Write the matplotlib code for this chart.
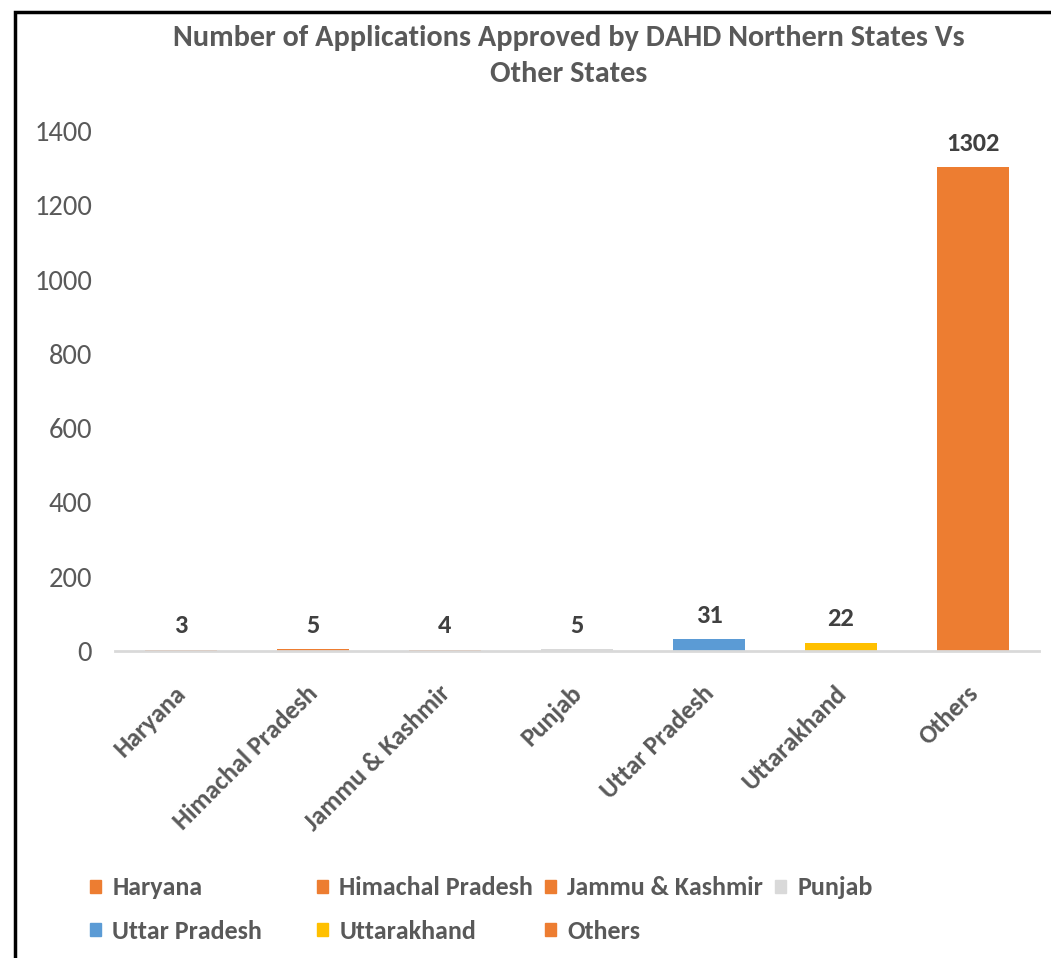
import matplotlib
matplotlib.use("Agg")
import matplotlib.pyplot as plt
from matplotlib.patches import Rectangle, Patch
from matplotlib.transforms import ScaledTranslation

REG = ['Carlito', 'Lato', 'DejaVu Sans']
BOLD = ['Carlito', 'Roboto', 'DejaVu Sans']
plt.rcParams['font.family'] = REG

# data
states = ['Haryana', 'Himachal Pradesh', 'Jammu & Kashmir', 'Punjab',
          'Uttar Pradesh', 'Uttarakhand', 'Others']
approved = [3, 5, 4, 5, 31, 22, 1302]
colors = ['#ED7D31', '#ED7D31', '#ED7D31', '#D9D9D9',
          '#5B9BD5', '#FFC000', '#ED7D31']

W, H = 1051, 958
fig = plt.figure(figsize=(W / 100, H / 100), dpi=100)

# axes placed by pixel
left, right, top, bottom = 115, 1039, 131, 651
ax = fig.add_axes([left / W, 1 - bottom / H, (right - left) / W, (bottom - top) / H])

x = list(range(len(states)))
ax.bar(x, approved, width=0.55, color=colors, zorder=1)
ax.set_xlim(-0.5, len(states) - 0.5)
ax.set_ylim(0, 1400)
ax.set_yticks(range(0, 1401, 200))
ax.tick_params(axis='y', length=0, labelsize=20.5, labelcolor='#595959', pad=16.5)
ax.tick_params(axis='x', length=0, pad=8)
ax.set_xticks(x)
ax.set_xticklabels(states, rotation=45, ha='right', rotation_mode='anchor',
                   fontsize=18.5, fontweight='bold', color='#595959', family=BOLD)
# nudge the rotated labels down/left like the original
shift = ScaledTranslation(-0.07, -0.19, fig.dpi_scale_trans)
for lab in ax.get_xticklabels():
    lab.set_transform(lab.get_transform() + shift)

for s in ['top', 'right', 'left']:
    ax.spines[s].set_visible(False)
ax.spines['bottom'].set_color('#D9D9D9')
ax.spines['bottom'].set_linewidth(2)

# data labels
for xi, v in zip(x, approved):
    ax.annotate(str(v), (xi, v), xytext=(0, 9), textcoords='offset points',
                ha='center', va='bottom', fontsize=19, fontweight='bold',
                color='#404040', family=BOLD)

fig.text(569 / W, 1 - 56 / H, 'Number of Applications Approved by DAHD Northern States Vs\nOther States',
         ha='center', va='center', fontsize=21.8, fontweight='bold', color='#595959',
         linespacing=1.45, family=BOLD)

# legend: one legend per column so the columns sit at fixed places
columns = [[0, 4], [1, 5], [2, 6], [3]]
col_x = [80, 307, 535, 765]
for idx, cx in zip(columns, col_x):
    handles = [Patch(color=colors[i], label=states[i]) for i in idx]
    leg = fig.legend(handles=handles, loc='upper left', bbox_to_anchor=(cx / W, 1 - 866 / H),
                     ncol=1, frameon=False, handlelength=0.4, handleheight=0.4,
                     handletextpad=0.45, labelspacing=0.8, borderaxespad=0,
                     prop={'family': BOLD, 'weight': 'bold', 'size': 18.7})
    for t in leg.get_texts():
        t.set_color('#595959')

# outer frame
fig.patches.append(Rectangle((15 / W, -0.1), 1.2, 1 - 12 / H + 0.1,
                             transform=fig.transFigure, fill=False,
                             edgecolor='black', linewidth=2.5))

fig.savefig('out.png', dpi=100)
